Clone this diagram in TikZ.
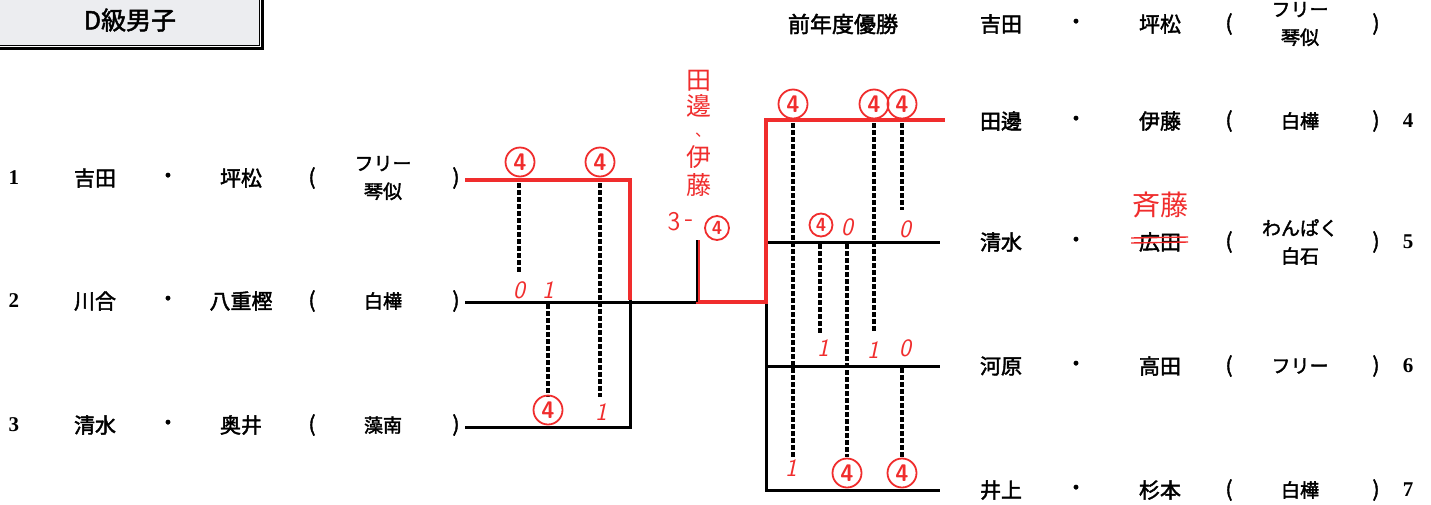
\documentclass[tikz,border=0pt]{standalone}
\usepackage{fontspec}
\newfontfamily\jp[FakeBold=2]{Noto Sans CJK JP}
\newfontfamily\jph{Noto Sans CJK JP}
\newfontfamily\numf{Liberation Serif}
\definecolor{hred}{RGB}{240,45,45}
\definecolor{boxgray}{RGB}{236,237,240}
\begin{document}
\begin{tikzpicture}[x=1pt,y=-1pt,
  nm/.style={font=\jp\fontsize{21}{25}\selectfont, inner sep=0},
  two/.style={font=\jp\fontsize{19}{28}\selectfont, align=center, inner sep=0},
  num/.style={font=\numf\bfseries\fontsize{21}{25}\selectfont, inner sep=0},
  hw/.style={font=\sffamily\itshape\fontsize{25}{26}\selectfont, text=hred, inner sep=0},
  hwj/.style={font=\jph\fontsize{25}{26}\selectfont, text=hred, inner sep=0},
  cfour/.style={circle, draw=hred, line width=1.8pt, minimum size=29pt, inner sep=0, text=hred, font=\sffamily\bfseries\fontsize{24}{24}\selectfont},
  cfoursm/.style={cfour, minimum size=23pt, font=\sffamily\bfseries\fontsize{19}{19}\selectfont},
  bl/.style={line width=3pt, black},
  rl/.style={line width=3.6pt, hred},
  dl/.style={line width=3.2pt, dash pattern=on 4.5pt off 2.5pt}
]
\useasboundingbox (0,0) rectangle (1431,504);
\fill[white] (0,0) rectangle (1431,504);

% title box
\draw[fill=boxgray, line width=0.8pt] (-5,-5) rectangle (259,45);
\draw[line width=3pt] (262,-5) -- (262,48) -- (-5,48);
\node[font=\jp\fontsize{25}{28}\selectfont] (title) at (130,20) {D級男子};

% left entries
\foreach \n/\y/\a/\b/\c in {1/178/吉田/坪松/{フリー\\琴似}, 2/301/川合/八重樫/白樺, 3/425/清水/奥井/藻南}{
  \node[num] (ln\n) at (14,\y) {\n};
  \node[nm] (la\n) at (95,\y) {\a};
  \node[nm] (ld\n) at (168,\y) {・};
  \node[nm] (lb\n) at (241,\y) {\b};
  \node[nm] (lo\n) at (312,\y) {(};
  \node[two] (lc\n) at (383,\y) {\c};
  \node[nm] (lx\n) at (456,\y) {)};
}

% right entries
\node[font=\jp\fontsize{22}{26}\selectfont] (prev) at (843,24) {前年度優勝};
\foreach \n/\y/\a/\b/\c in {0/24/吉田/坪松/{フリー\\琴似}, 4/121/田邊/伊藤/白樺, 5/242/清水/広田/{わんぱく\\白石}, 6/366/河原/高田/フリー, 7/490/井上/杉本/白樺}{
  \node[nm] (ra\n) at (1001,\y) {\a};
  \node[nm] (rd\n) at (1076,\y) {・};
  \node[nm] (rb\n) at (1160,\y) {\b};
  \node[nm] (ro\n) at (1229,\y) {(};
  \node[two] (rc\n) at (1300,\y) {\c};
  \node[nm] (rx\n) at (1376,\y) {)};
}
\foreach \n/\y in {4/121,5/242,6/366,7/490}
  \node[num] (rn\n) at (1408,\y) {\n};

% coordinates
\coordinate (L1s) at (465,180); \coordinate (L1e) at (630,180);
\coordinate (L2s) at (465,302); \coordinate (M) at (766,302);
\coordinate (L3s) at (465,427); \coordinate (L3e) at (630,427);
\coordinate (Lred) at (630,300);
\coordinate (S1) at (698,302); \coordinate (S2) at (698,240);
\coordinate (R1s) at (766,120); \coordinate (R1e) at (945,120);
\coordinate (R2s) at (766,242); \coordinate (R2e) at (940,242);
\coordinate (R3s) at (766,366); \coordinate (R3e) at (940,366);
\coordinate (R4s) at (766,490); \coordinate (R4e) at (940,490);

% black bracket
\draw[bl] (L1s) -- (L1e) -- (L3e) -- (L3s);
\draw[bl] (L2s) -- (M);
\draw[bl] (S2) -- (S1);
\draw[bl] (R1s) -- (R4s) -- (R4e);
\draw[bl] (R1s) -- (R1e);
\draw[bl] (R2s) -- (R2e);
\draw[bl] (R3s) -- (R3e);

% red winner path
\draw[rl] (L1s) -- (L1e) -- (Lred);
\draw[rl] (S2) -- (S1) -- (M) -- (R1s) -- (R1e);
\draw[bl, line width=1.6pt] (697,240) -- (697,302);

% dashed score lines
\draw[dl] (519,183) -- (519,272);
\draw[dl] (548,304) -- (548,397);
\draw[dl] (600,183) -- (600,397);
\draw[dl] (793,123) -- (793,457);
\draw[dl] (820,244) -- (820,333);
\draw[dl] (847,244) -- (847,457);
\draw[dl] (874,123) -- (874,333);
\draw[dl] (902,123) -- (902,210);
\draw[dl] (902,368) -- (902,457);

% red scores, left
\node[cfour] (c1) at (520,162) {4};
\node[cfour] (c2) at (600,162) {4};
\node[hw] (s1) at (519,290) {0};
\node[hw] (s2) at (548,290) {1};
\node[cfour] (c3) at (548,410) {4};
\node[hw] (s3) at (601,412) {1};

% red scores, right
\node[cfour] (c4) at (793,104) {4};
\node[cfour] (c5) at (874,104) {4};
\node[cfour] (c6) at (902,104) {4};
\node[cfoursm] (c7) at (821,225) {4};
\node[hw] (s4) at (847,227) {0};
\node[hw] (s5) at (905,229) {0};
\node[hw] (s6) at (823,348) {1};
\node[hw] (s7) at (873,350) {1};
\node[hw] (s8) at (905,348) {0};
\node[hw] (s9) at (791,468) {1};
\node[cfour] (c8) at (847,473) {4};
\node[cfour] (c9) at (902,473) {4};

% handwritten notes
\node[hwj] (h1) at (699,81) {田};
\node[hwj] (h2) at (699,106) {邊};
\node[hwj, font=\jph\fontsize{16}{16}\selectfont] (h3) at (703,135) {、};
\node[hwj] (h4) at (699,157) {伊};
\node[hwj] (h5) at (699,185) {藤};
\node[hw, font=\sffamily\fontsize{27}{28}\selectfont] (h6) at (674,222) {3};
\node[hw, font=\sffamily\fontsize{27}{28}\selectfont] (h7) at (689,223) {-};
\node[cfoursm, minimum size=24pt] (h8) at (717,228) {4};
\node[hwj, font=\jph\fontsize{28}{30}\selectfont] (h9) at (1160,205) {斉藤};
\draw[hred, line width=1.4pt] (1131,238) -- (1188,237);
\draw[hred, line width=1.4pt] (1131,243) -- (1188,242);
\end{tikzpicture}
\end{document}
